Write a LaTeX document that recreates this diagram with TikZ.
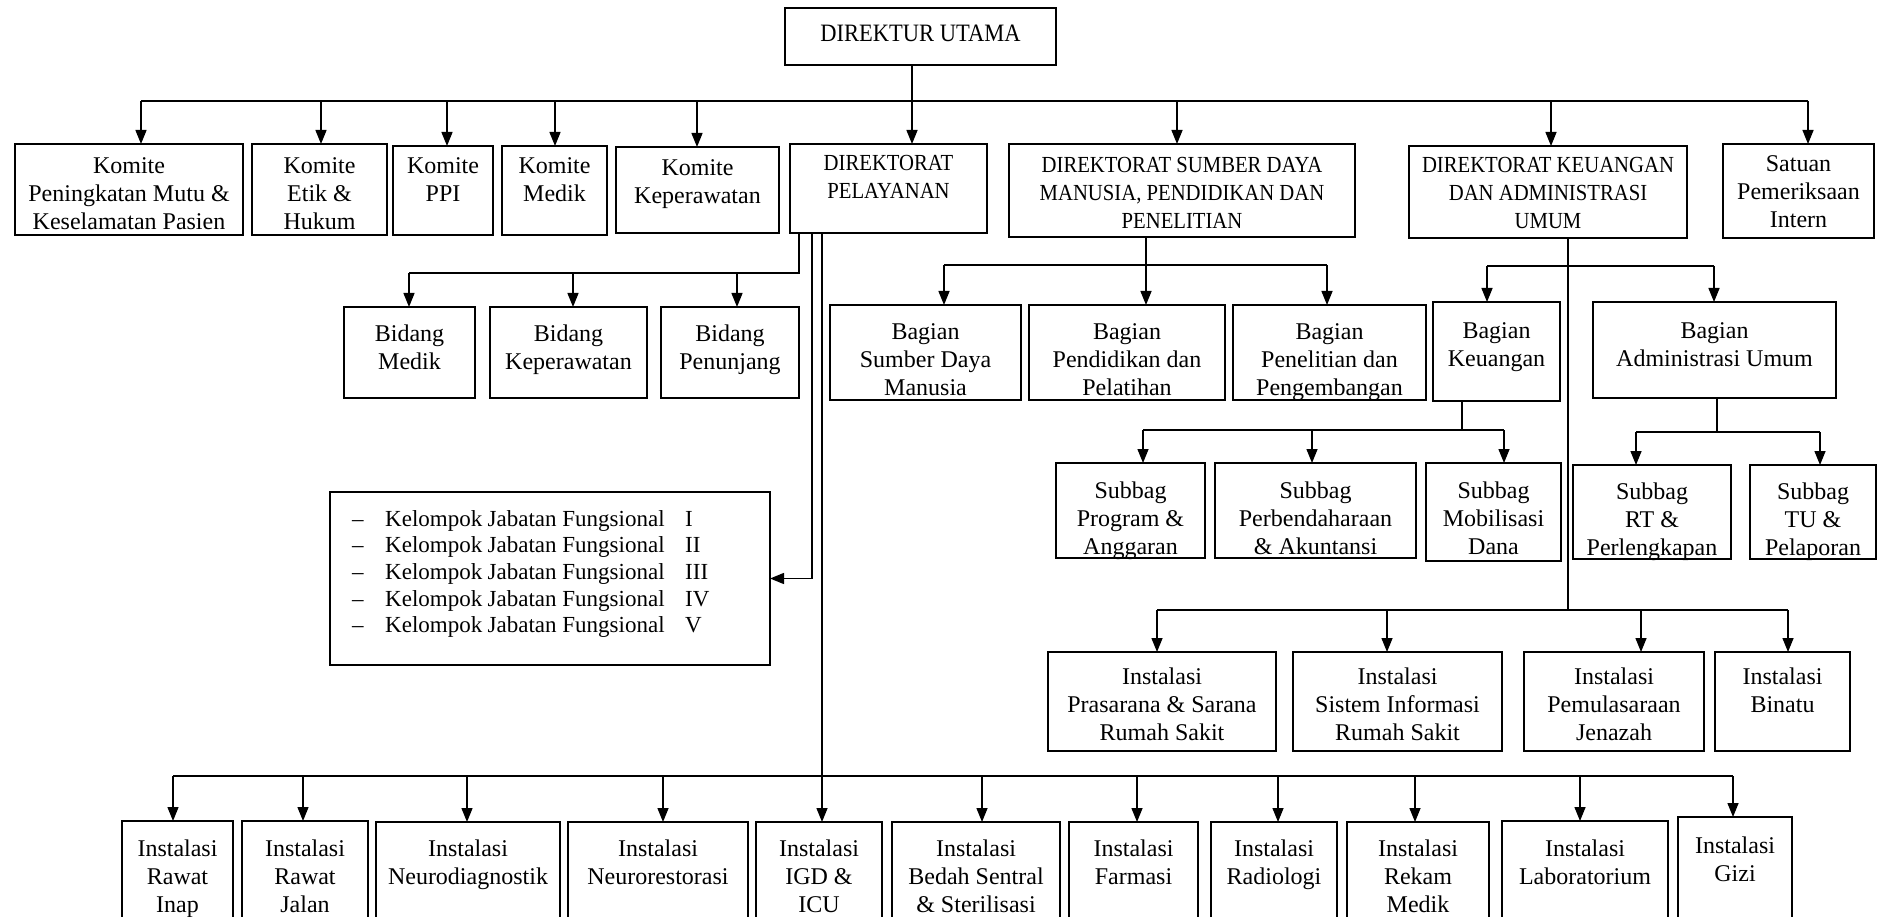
\documentclass[tikz,border=0pt]{standalone}
\usepackage{fontspec}
\setmainfont{Liberation Serif}
\newfontfamily\capsf[FakeStretch=0.9]{Liberation Serif}
\usetikzlibrary{arrows.meta}
\tikzset{
  boxst/.style={draw, line width=1.4pt, inner sep=0pt, outer sep=0pt},
  txt/.style={inner sep=0pt, align=center, font=\fontsize{24}{28}\selectfont},
  captxt/.style={inner sep=0pt, align=center, font=\capsf\fontsize{23}{28}\selectfont},
  dutxt/.style={inner sep=0pt, align=center, font=\capsf\fontsize{25}{27}\selectfont},
  ln/.style={line width=1.4pt},
  arr/.style={ln, -{Triangle[width=11pt,length=14pt]}},
}
% #1 text style, #2 name, #3 x1, #4 y1, #5 x2, #6 y2, #7 text top, #8 text
\newcommand\obox[8][txt]{%
  \node[boxst, minimum width={#5-#3}, minimum height={#6-#4}, anchor=north west] (#2) at (#3,#4) {};
  \node[#1, anchor=north] (#2-t) at ({(#3+#5)/2},#7) {#8};
}
\newcommand\drop[3]{\draw[arr] ([xshift=#2pt]#1.north |- #3) -- ([xshift=#2pt]#1.north);}
\begin{document}
\begin{tikzpicture}[x=1pt,y=-1pt]
\useasboundingbox (0,0) rectangle (1879,917);
\clip (0,0) rectangle (1879,917);
\fill[white] (0,0) rectangle (1879,917);

% top
\obox[dutxt]{du}{785}{8}{1056}{65}{25}{DIREKTUR UTAMA}
% row 1
\obox{k1}{15}{144}{243}{235}{157}{Komite\\Peningkatan Mutu \&\\Keselamatan Pasien}
\obox{k2}{252}{144}{387}{235}{157}{Komite\\Etik \&\\Hukum}
\obox{k3}{393}{146}{493}{235}{157}{Komite\\PPI}
\obox{k4}{502}{146}{607}{235}{157}{Komite\\Medik}
\obox{k5}{616}{147}{779}{233}{159}{Komite\\Keperawatan}
\obox[captxt]{dp}{790}{144}{987}{233}{155}{DIREKTORAT\\PELAYANAN}
\obox[captxt]{ds}{1009}{144}{1355}{237}{157}{DIREKTORAT SUMBER DAYA\\MANUSIA, PENDIDIKAN DAN\\PENELITIAN}
\obox[captxt]{dk}{1409}{146}{1687}{238}{157}{DIREKTORAT KEUANGAN\\DAN ADMINISTRASI\\UMUM}
\obox{sp}{1723}{144}{1874}{238}{155}{Satuan\\Pemeriksaan\\Intern}
% row 2
\obox{bm}{344}{307}{475}{398}{325}{Bidang\\Medik}
\obox{bk}{490}{307}{647}{398}{325}{Bidang\\Keperawatan}
\obox{bp}{661}{307}{799}{398}{325}{Bidang\\Penunjang}
\obox{bagS}{830}{305}{1021}{400}{323}{Bagian\\Sumber Daya\\Manusia}
\obox{bagP}{1029}{305}{1225}{400}{323}{Bagian\\Pendidikan dan\\Pelatihan}
\obox{bagR}{1233}{305}{1426}{400}{323}{Bagian\\Penelitian dan\\Pengembangan}
\obox{bagK}{1433}{302}{1560}{401}{322}{Bagian\\Keuangan}
\obox{bagA}{1593}{302}{1836}{398}{322}{Bagian\\Administrasi Umum}
% kelompok
\node[boxst, minimum width=440, minimum height=173, anchor=north west] (kel) at (330,492) {};
\node[anchor=north west, inner sep=0pt, align=left, font=\fontsize{23}{26.7}\selectfont] (kel-t) at (352,510)
 {\makebox[33pt][l]{--}\makebox[102.5pt][l]{Kelompok}\makebox[197.5pt][l]{Jabatan Fungsional}I\\
  \makebox[33pt][l]{--}\makebox[102.5pt][l]{Kelompok}\makebox[197.5pt][l]{Jabatan Fungsional}II\\
  \makebox[33pt][l]{--}\makebox[102.5pt][l]{Kelompok}\makebox[197.5pt][l]{Jabatan Fungsional}III\\
  \makebox[33pt][l]{--}\makebox[102.5pt][l]{Kelompok}\makebox[197.5pt][l]{Jabatan Fungsional}IV\\
  \makebox[33pt][l]{--}\makebox[102.5pt][l]{Kelompok}\makebox[197.5pt][l]{Jabatan Fungsional}V};
% subbag
\obox{s1}{1056}{463}{1205}{558}{482}{Subbag\\Program \&\\Anggaran}
\obox{s2}{1215}{463}{1416}{558}{482}{Subbag\\Perbendaharaan\\\& Akuntansi}
\obox{s3}{1426}{463}{1561}{561}{482}{Subbag\\Mobilisasi\\Dana}
\obox{s4}{1573}{465}{1731}{559}{483}{Subbag\\RT \&\\Perlengkapan}
\obox{s5}{1750}{465}{1876}{559}{483}{Subbag\\TU \&\\Pelaporan}
% instalasi (middle)
\obox{n1}{1048}{652}{1276}{751}{668}{Instalasi\\Prasarana \& Sarana\\Rumah Sakit}
\obox{n2}{1293}{652}{1502}{751}{668}{Instalasi\\Sistem Informasi\\Rumah Sakit}
\obox{n3}{1524}{652}{1704}{751}{668}{Instalasi\\Pemulasaraan\\Jenazah}
\obox{n4}{1715}{652}{1850}{751}{668}{Instalasi\\Binatu}
% instalasi (bottom)
\obox{i1}{122}{821}{233}{935}{840}{Instalasi\\Rawat\\Inap}
\obox{i2}{242}{821}{368}{935}{840}{Instalasi\\Rawat\\Jalan}
\obox{i3}{376}{822}{560}{935}{840}{Instalasi\\Neurodiagnostik}
\obox{i4}{568}{822}{748}{935}{840}{Instalasi\\Neurorestorasi}
\obox{i5}{756}{822}{882}{935}{840}{Instalasi\\IGD \&\\ICU}
\obox{i6}{892}{822}{1060}{935}{840}{Instalasi\\Bedah Sentral\\\& Sterilisasi}
\obox{i7}{1069}{822}{1198}{935}{840}{Instalasi\\Farmasi}
\obox{i8}{1211}{822}{1337}{935}{840}{Instalasi\\Radiologi}
\obox{i9}{1347}{822}{1489}{935}{840}{Instalasi\\Rekam\\Medik}
\obox{i10}{1502}{821}{1668}{935}{840}{Instalasi\\Laboratorium}
\obox{i11}{1678}{817}{1792}{935}{837}{Instalasi\\Gizi}

% bus levels
\coordinate (busA) at (0,101);
\coordinate (busB) at (0,273);
\coordinate (busD) at (0,265);
\coordinate (busE) at (0,266);
\coordinate (busG) at (0,430);
\coordinate (busH) at (0,432);
\coordinate (busF) at (0,610);
\coordinate (busC) at (0,776);

% direktur utama
\draw[arr] ([xshift=-8.5pt]du.south) -- ([xshift=-8.5pt]du.south |- dp.north);
\draw[ln] ([xshift=12pt]k1.north |- busA) -- ([xshift=9.5pt]sp.north |- busA);
\drop{k1}{12}{busA}
\drop{k2}{1.5}{busA}
\drop{k3}{4}{busA}
\drop{k4}{0.5}{busA}
\drop{k5}{-0.5}{busA}
\drop{ds}{-5}{busA}
\drop{dk}{3}{busA}
\drop{sp}{9.5}{busA}

% direktorat pelayanan
\draw[ln] ([xshift=-89.5pt]dp.south) |- ([xshift=-0.5pt]bm.north |- busB);
\drop{bm}{-0.5}{busB}
\drop{bk}{4.5}{busB}
\drop{bp}{7}{busB}
\draw[arr] ([xshift=-76.5pt]dp.south) |- (kel.east);
\draw[arr] ([xshift=-66.5pt]dp.south) -- ([xshift=3pt]i5.north);
\draw[ln] ([xshift=-4.5pt]i1.north |- busC) -- ([xshift=-2pt]i11.north |- busC);
\drop{i1}{-4.5}{busC}
\drop{i2}{-2}{busC}
\drop{i3}{-1}{busC}
\drop{i4}{5}{busC}
\drop{i6}{6}{busC}
\drop{i7}{3.5}{busC}
\drop{i8}{4}{busC}
\drop{i9}{-3}{busC}
\drop{i10}{-5}{busC}
\drop{i11}{-2}{busC}

% direktorat SDM
\draw[arr] ([xshift=-36pt]ds.south) -- ([xshift=19pt]bagP.north);
\draw[ln] ([xshift=18.5pt]bagS.north |- busD) -- ([xshift=-2.5pt]bagR.north |- busD);
\drop{bagS}{18.5}{busD}
\drop{bagR}{-2.5}{busD}

% direktorat keuangan
\draw[ln] ([xshift=20pt]dk.south) -- ([xshift=20pt]dk.south |- busF);
\draw[ln] ([xshift=-9.5pt]bagK.north |- busE) -- ([xshift=-0.5pt]bagA.north |- busE);
\drop{bagK}{-9.5}{busE}
\drop{bagA}{-0.5}{busE}
\draw[ln] ([xshift=-5pt]n1.north |- busF) -- ([xshift=5.5pt]n4.north |- busF);
\drop{n1}{-5}{busF}
\drop{n2}{-10.5}{busF}
\drop{n3}{27}{busF}
\drop{n4}{5.5}{busF}

% bagian keuangan
\draw[ln] ([xshift=-34.5pt]bagK.south) -- ([xshift=-34.5pt]bagK.south |- busG);
\draw[ln] ([xshift=12.5pt]s1.north |- busG) -- ([xshift=10.5pt]s3.north |- busG);
\drop{s1}{12.5}{busG}
\drop{s2}{-3.5}{busG}
\drop{s3}{10.5}{busG}

% bagian administrasi umum
\draw[ln] ([xshift=2.5pt]bagA.south) -- ([xshift=2.5pt]bagA.south |- busH);
\draw[ln] ([xshift=-16pt]s4.north |- busH) -- ([xshift=7pt]s5.north |- busH);
\drop{s4}{-16}{busH}
\drop{s5}{7}{busH}
\end{tikzpicture}
\end{document}
